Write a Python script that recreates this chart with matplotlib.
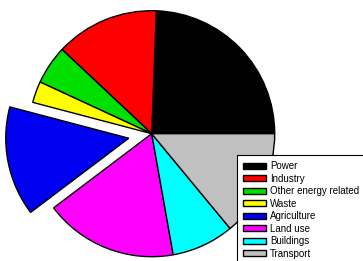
import matplotlib
matplotlib.use("Agg")
import matplotlib.pyplot as plt

labels = ["Power", "Industry", "Other energy related", "Waste",
          "Agriculture", "Land use", "Buildings", "Transport"]
values = [24.4, 13.6, 5.1, 2.8, 14.4, 17.5, 8.2, 14.0]
colors = ["#000000", "#ff0000", "#00e000", "#ffff00",
          "#0000f0", "#ff00ff", "#00ffff", "#c0c0c0"]
explode = [0, 0, 0, 0, 0.19, 0, 0, 0]

W, H = 363, 261
fig = plt.figure(figsize=(W / 100, H / 100), dpi=100)
ax = fig.add_axes([0, 0, 1, 1])
cx, cy, r = 151.7, 133.7, 123.0

wedges, _ = ax.pie(values, colors=colors, explode=explode, startangle=0,
                   counterclock=True,
                   wedgeprops=dict(edgecolor="black", linewidth=1.0))
ax.set_aspect("auto")
ax.set_xlim(-cx / r, (W - cx) / r)
ax.set_ylim(-(H - cy) / r, cy / r)
ax.axis("off")

plt.rcParams["font.family"] = ["Liberation Sans", "DejaVu Sans"]
leg = fig.legend(wedges, labels, loc="upper left",
                 bbox_to_anchor=(237 / W, 1 - 155 / H),
                 frameon=True, fancybox=False,
                 edgecolor="black", framealpha=1,
                 handlelength=2.4, handleheight=0.55, handletextpad=0.4,
                 labelspacing=0.26, borderpad=0.62, borderaxespad=0,
                 prop=dict(family="Liberation Sans", size=7.0))
leg.get_frame().set_linewidth(0.8)

fig.savefig("out.png", dpi=100)
